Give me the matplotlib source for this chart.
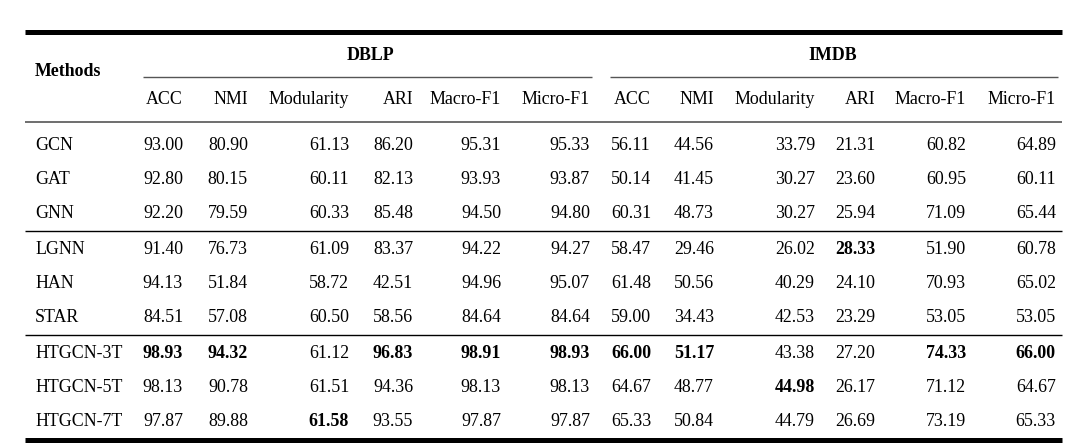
import matplotlib
matplotlib.use("Agg")
import matplotlib.pyplot as plt
import numpy as np

methods = ["GCN", "GAT", "GNN", "LGNN", "HAN", "STAR", "HTGCN-3T", "HTGCN-5T", "HTGCN-7T"]
metrics = ["ACC", "NMI", "Modularity", "ARI", "Macro-F1", "Micro-F1"]
datasets = ["DBLP", "IMDB"]

dblp_acc = [93.00, 92.80, 92.20, 91.40, 94.13, 84.51, 98.93, 98.13, 97.87]
dblp_nmi = [80.90, 80.15, 79.59, 76.73, 51.84, 57.08, 94.32, 90.78, 89.88]
dblp_mod = [61.13, 60.11, 60.33, 61.09, 58.72, 60.50, 61.12, 61.51, 61.58]
dblp_ari = [86.20, 82.13, 85.48, 83.37, 42.51, 58.56, 96.83, 94.36, 93.55]
dblp_maf1 = [95.31, 93.93, 94.50, 94.22, 94.96, 84.64, 98.91, 98.13, 97.87]
dblp_mif1 = [95.33, 93.87, 94.80, 94.27, 95.07, 84.64, 98.93, 98.13, 97.87]

imdb_acc = [56.11, 50.14, 60.31, 58.47, 61.48, 59.00, 66.00, 64.67, 65.33]
imdb_nmi = [44.56, 41.45, 48.73, 29.46, 50.56, 34.43, 51.17, 48.77, 50.84]
imdb_mod = [33.79, 30.27, 30.27, 26.02, 40.29, 42.53, 43.38, 44.98, 44.79]
imdb_ari = [21.31, 23.60, 25.94, 28.33, 24.10, 23.29, 27.20, 26.17, 26.69]
imdb_maf1 = [60.82, 60.95, 71.09, 51.90, 70.93, 53.05, 74.33, 71.12, 73.19]
imdb_mif1 = [64.89, 60.11, 65.44, 60.78, 65.02, 53.05, 66.00, 64.67, 65.33]

columns = [dblp_acc, dblp_nmi, dblp_mod, dblp_ari, dblp_maf1, dblp_mif1,
           imdb_acc, imdb_nmi, imdb_mod, imdb_ari, imdb_maf1, imdb_mif1]

W, H = 1084, 448
fig = plt.figure(figsize=(W / 100, H / 100), dpi=100)
ax = fig.add_axes([0, 0, 1, 1])
ax.set_xlim(0, W)
ax.set_ylim(H, 0)
ax.axis("off")

FONT = "Liberation Serif"
FS = 12.9
TXT = "#000000"

# layout (pixels)
col_right = [183, 248, 349, 413, 501, 590, 651, 714, 815, 875, 966, 1056]
row_y = [146, 180, 214, 250, 284, 318, 354, 388, 421]
method_x = 35
left, right = 25, 1062

# rules
ax.plot([left, right], [32, 32], color="black", lw=3.6, solid_capstyle="butt")
ax.plot([left, right], [440, 440], color="black", lw=3.6, solid_capstyle="butt")
ax.plot([left, right], [122, 122], color="#555555", lw=1.2, solid_capstyle="butt")
ax.plot([left, right], [231, 231], color="black", lw=1.0, solid_capstyle="butt")
ax.plot([left, right], [335, 335], color="black", lw=1.0, solid_capstyle="butt")
ax.plot([143, 592], [77, 77], color="#555555", lw=1.0, solid_capstyle="butt")
ax.plot([610, 1058], [77, 77], color="#555555", lw=1.0, solid_capstyle="butt")

# headers
ax.text(method_x, 72, "Methods", fontfamily=FONT, fontsize=FS, fontweight="bold",
        ha="left", va="center", color=TXT)
ax.text(370, 56, datasets[0], fontfamily=FONT, fontsize=FS, fontweight="bold",
        ha="center", va="center", color=TXT)
ax.text(833, 56, datasets[1], fontfamily=FONT, fontsize=FS, fontweight="bold",
        ha="center", va="center", color=TXT)
for j, xr in enumerate(col_right):
    ax.text(xr, 100, metrics[j % 6], fontfamily=FONT, fontsize=FS,
            ha="right", va="center", color=TXT)

# body
for i, m in enumerate(methods):
    ax.text(method_x, row_y[i], m, fontfamily=FONT, fontsize=FS,
            ha="left", va="center", color=TXT)
for j, col in enumerate(columns):
    best = int(np.argmax(col))
    for i, v in enumerate(col):
        ax.text(col_right[j], row_y[i], f"{v:.2f}", fontfamily=FONT, fontsize=FS,
                fontweight="bold" if i == best else "normal",
                ha="right", va="center", color=TXT)

fig.savefig("out.png", dpi=100, facecolor="white")
